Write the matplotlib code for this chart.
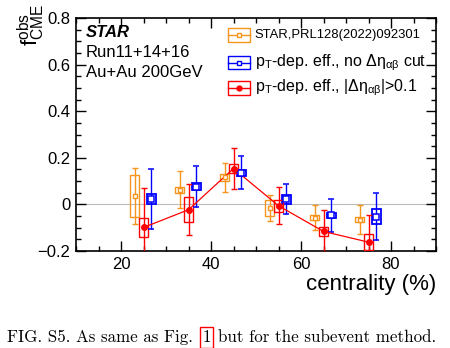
import matplotlib
matplotlib.use('Agg')
import matplotlib.pyplot as plt
from matplotlib.patches import Rectangle
from matplotlib.lines import Line2D
from matplotlib.ticker import MultipleLocator
import numpy as np

# ── Data ─────────────────────────────────────────────────────────────────────
centrality = np.array([25, 35, 45, 55, 65, 75])

# STAR, PRL128(2022)092301
prl_y    = np.array([0.036, 0.063, 0.116, -0.016, -0.057, -0.066])
prl_stat = np.array([0.120, 0.080, 0.062, 0.055, 0.055, 0.063])
prl_sys  = np.array([0.089, 0.012, 0.015, 0.035, 0.012, 0.010])

# pT-dep. eff., no delta-eta cut
noc_y    = np.array([0.023, 0.075, 0.136, 0.022, -0.047, -0.052])
noc_stat = np.array([0.128, 0.088, 0.071, 0.065, 0.070, 0.100])
noc_sys  = np.array([0.020, 0.015, 0.012, 0.019, 0.010, 0.032])

# pT-dep. eff., |delta-eta| > 0.1
cut_y    = np.array([-0.099, -0.023, 0.154, -0.006, -0.116, -0.162])
cut_stat = np.array([0.170, 0.110, 0.090, 0.080, 0.090, 0.118])
cut_sys  = np.array([0.040, 0.053, 0.020, 0.025, 0.020, 0.034])

ORANGE = '#f7941d'
BLUE   = '#0000ff'
RED    = '#ff0000'
BOXW   = 2.0

plt.rcParams['font.family'] = ['Liberation Sans', 'DejaVu Sans']
plt.rcParams['mathtext.fontset'] = 'custom'
plt.rcParams['mathtext.rm'] = 'Liberation Sans'
plt.rcParams['mathtext.it'] = 'Liberation Sans'
plt.rcParams['mathtext.bf'] = 'Liberation Sans:bold'

fig = plt.figure(figsize=(4.5, 3.48), dpi=100)
ax = fig.add_axes([76 / 450, 97 / 348, 360 / 450, 233 / 348])

ax.axhline(0, color='#bbbbbb', lw=0.8, zorder=1)


def draw_series(x, y, stat, sys, color, lw, fmt, ms, mfc, mew):
    for xi, yi, si in zip(x, y, sys):
        ax.add_patch(Rectangle((xi - BOXW / 2, yi - si), BOXW, 2 * si,
                               fill=False, edgecolor=color, lw=lw, zorder=3))
    ax.errorbar(x, y, yerr=stat, fmt=fmt, color=color, ms=ms, mfc=mfc,
                mec=color, mew=mew, elinewidth=1.0, capsize=2, capthick=1.0,
                zorder=4)


draw_series(centrality - 2.0, prl_y, prl_stat, prl_sys, ORANGE, 1.0, 's', 3.5, 'white', 1.0)
draw_series(centrality + 1.7, noc_y, noc_stat, noc_sys, BLUE, 1.3, 's', 4, 'white', 1.1)
draw_series(centrality, cut_y, cut_stat, cut_sys, RED, 1.0, 'o', 4, RED, 1.0)
ax.plot(centrality, cut_y, color=RED, lw=0.9, zorder=4)

ax.set_xlim(10, 90)
ax.set_ylim(-0.2, 0.8)
ax.xaxis.set_major_locator(MultipleLocator(20))
ax.xaxis.set_minor_locator(MultipleLocator(5))
ax.yaxis.set_major_locator(MultipleLocator(0.2))
ax.yaxis.set_minor_locator(MultipleLocator(0.05))
ax.tick_params(which='both', direction='in', top=True, right=True,
               labelsize=12, width=1.0, pad=4)
ax.tick_params(which='major', length=7)
ax.tick_params(which='minor', length=3.5)
ax.set_yticks([-0.2, 0, 0.2, 0.4, 0.6, 0.8])
ax.set_yticklabels(['\u22120.2', '0', '0.2', '0.4', '0.6', '0.8'])
for s in ax.spines.values():
    s.set_linewidth(1.2)

ax.set_xlabel('centrality (%)', fontsize=16, loc='right', labelpad=2)
ax.set_ylabel(r'$\mathrm{f}^{\mathrm{obs}}_{\mathrm{CME}}$', fontsize=16,
              loc='top', labelpad=0)
ax.yaxis.set_label_coords(-0.081, 1.06)

# STAR labels
ax.text(0.028, 0.936, 'STAR', transform=ax.transAxes, fontsize=12,
        fontweight='bold', fontstyle='italic', va='center')
ax.text(0.028, 0.85, 'Run11+14+16', transform=ax.transAxes, fontsize=12, va='center')
ax.text(0.028, 0.768, 'Au+Au 200GeV', transform=ax.transAxes, fontsize=12, va='center')

# legend (ROOT style, drawn by hand)
leg_entries = [
    ('STAR,PRL128(2022)092301', ORANGE, 's', 'white', 3.5, 9.4),
    (r'p$_{\mathrm{T}}$-dep. eff., no $\Delta\eta_{\alpha\beta}$ cut', BLUE, 's', 'white', 3.5, 11.5),
    (r'p$_{\mathrm{T}}$-dep. eff., |$\Delta\eta_{\alpha\beta}$|>0.1', RED, 'o', RED, 3.5, 11.5),
]
leg_y = [0.928, 0.808, 0.700]
x0, x1 = 0.422, 0.483
bh = 0.058
for (lab, col, mk, mfc, ms, fs), yy in zip(leg_entries, leg_y):
    ax.add_patch(Rectangle((x0, yy - bh / 2), x1 - x0, bh, transform=ax.transAxes,
                           fill=False, edgecolor=col, lw=1.0, clip_on=False))
    ax.add_line(Line2D([x0, x1], [yy, yy], transform=ax.transAxes, color=col, lw=1.0))
    ax.plot([(x0 + x1) / 2], [yy], transform=ax.transAxes, marker=mk, ms=ms,
            color=col, mfc=mfc, mec=col, mew=1.0)
    ax.text(0.497, yy, lab, transform=ax.transAxes, fontsize=fs, va='center')

# caption
renderer = fig.canvas.get_renderer()
cap_y = 6 / 348
CAP_FS = 12.2
t1 = fig.text(7 / 450, cap_y, 'FIG. S5. As same as Fig. ', fontfamily='cmr10',
              fontsize=CAP_FS, va='baseline')
bb = t1.get_window_extent(renderer)
t2 = fig.text(bb.x1 / 450 + 0.008, cap_y, '1', fontfamily='cmr10', fontsize=CAP_FS,
              va='baseline',
              bbox=dict(boxstyle='square,pad=0.15', fill=False, edgecolor=RED, lw=1.0))
bb2 = t2.get_window_extent(renderer)
fig.text(bb2.x1 / 450 + 0.016, cap_y, 'but for the subevent method.', fontfamily='cmr10',
         fontsize=CAP_FS, va='baseline')

fig.savefig('out.png', dpi=100)
